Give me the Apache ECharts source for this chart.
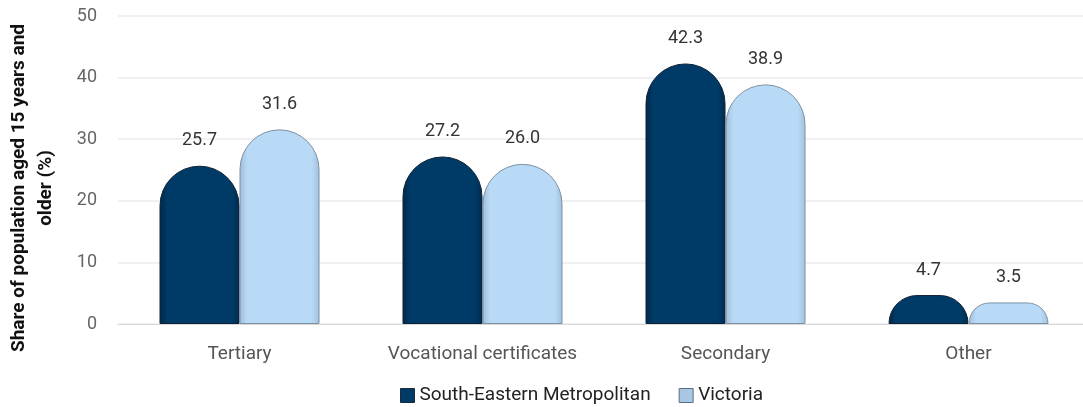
<!DOCTYPE html>
<html><head><meta charset="utf-8">
<script src="https://cdn.jsdelivr.net/npm/echarts@6/dist/echarts.min.js"></script>
<style>html,body{margin:0;padding:0;background:#fff}#c{width:1083px;height:407px}</style>
</head><body><div id="c"></div>
<script>
const categories = ['Tertiary', 'Vocational certificates', 'Secondary', 'Other'];
const seriesNames = ['South-Eastern Metropolitan', 'Victoria'];
const southEastern = [25.7, 27.2, 42.3, 4.7];
const victoria = [31.6, 26.0, 38.9, 3.5];
const yTicks = [0, 10, 20, 30, 40, 50];
const yTitle = 'Share of population aged 15 years and\nolder (%)';

const FONT = 'Roboto, "Noto Sans", sans-serif';
function fill(edgeL, base, edgeR) {
  return {
    type: 'linear', x: 0, y: 0, x2: 1, y2: 0,
    colorStops: [
      {offset: 0, color: edgeL},
      {offset: 0.1, color: base},
      {offset: 0.9, color: base},
      {offset: 1, color: edgeR}
    ]
  };
}
const chart = echarts.init(document.getElementById('c'));
chart.setOption({
  animation: false,
  grid: {left: 118, top: 16, width: 972, bottom: 83, outerBoundsMode: 'none', containLabel: false},
  legend: {
    top: 381, left: 395, itemWidth: 14, itemHeight: 14, itemGap: 28, icon: 'rect',
    textStyle: {fontFamily: FONT, fontSize: 19, color: '#222'},
    data: [
      {name: seriesNames[0], itemStyle: {color: '#003a66', borderColor: '#1b2a3a', borderWidth: 1}},
      {name: seriesNames[1], itemStyle: {color: '#a9c6e3', borderColor: '#5a6f85', borderWidth: 1}}
    ]
  },
  graphic: [{
    type: 'text', x: 33, y: 188, rotation: Math.PI / 2,
    style: {text: yTitle, align: 'center', verticalAlign: 'middle', lineHeight: 27,
      fontFamily: FONT, fontSize: 19, fontWeight: 'bold', fill: '#111'}
  }],
  xAxis: {
    type: 'category', data: categories,
    axisLine: {lineStyle: {color: '#d9d9d9'}},
    axisTick: {show: false},
    axisLabel: {interval: 0, hideOverlap: false, fontFamily: FONT, fontSize: 19, color: '#555', margin: 21}
  },
  yAxis: {
    type: 'value', min: yTicks[0], max: yTicks[yTicks.length - 1], interval: 10,
    axisLabel: {fontFamily: FONT, fontSize: 18, color: '#666', margin: 21},
    splitLine: {lineStyle: {color: '#ebebeb', width: 1.5}},
    axisLine: {show: false}, axisTick: {show: false}
  },
  series: [
    {
      name: seriesNames[0], type: 'bar', data: southEastern,
      barWidth: 80, barGap: '0%',
      itemStyle: {color: fill('#00294a', '#003a66', '#002d52'), borderColor: '#0f2235', borderWidth: 1, borderRadius: [40, 40, 0, 0]},
      label: {show: true, position: 'top', distance: 16, fontFamily: FONT, fontSize: 18, color: '#333', formatter: p => p.value.toFixed(1)}
    },
    {
      name: seriesNames[1], type: 'bar', data: victoria,
      barWidth: 80,
      itemStyle: {color: fill('#9fbcd8', '#b9daf7', '#a3c0dc'), borderColor: '#7d8fa3', borderWidth: 1, borderRadius: [40, 40, 0, 0]},
      label: {show: true, position: 'top', distance: 16, fontFamily: FONT, fontSize: 18, color: '#333', formatter: p => p.value.toFixed(1)}
    }
  ]
});
</script></body></html>
